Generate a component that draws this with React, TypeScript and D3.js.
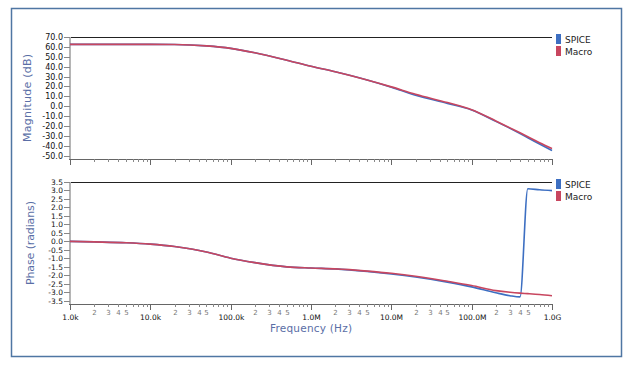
import React, { useEffect, useRef } from "react";
import * as d3 from "d3";

// frequency sample points (Hz)
const freqs = [1e3, 2e3, 5e3, 1e4, 2e4, 5e4, 1e5, 2e5, 5e5, 1e6, 2e6, 5e6, 1e7, 2e7, 5e7, 1e8, 2e8, 3e8, 4e8, 5e8, 7e8, 1e9];

// magnitude (dB)
const magSpice = [62.5, 62.5, 62.5, 62.5, 62.4, 61.0, 58.5, 54.0, 46.5, 40.3, 34.8, 26.5, 19.2, 11.0, 2.8, -3.8, -15.4, -22.5, -27.8, -32.0, -38.3, -45.0];
const magMacro = [62.5, 62.5, 62.5, 62.5, 62.4, 61.0, 58.5, 54.0, 46.5, 40.3, 34.8, 26.5, 19.5, 12.0, 3.6, -3.6, -15.0, -22.0, -27.0, -31.0, -37.0, -43.0];

// phase (radians)
const phaseSpice = [0.0, -0.03, -0.08, -0.16, -0.3, -0.62, -0.99, -1.25, -1.5, -1.57, -1.62, -1.77, -1.92, -2.1, -2.4, -2.68, -3.03, -3.2, -3.27, 3.1, 3.04, 2.99];
const phaseMacro = [0.0, -0.03, -0.08, -0.16, -0.3, -0.62, -0.99, -1.25, -1.5, -1.57, -1.62, -1.75, -1.88, -2.05, -2.35, -2.6, -2.9, -3.0, -3.05, -3.08, -3.13, -3.2];

const decadeLabels = ["1.0k", "10.0k", "100.0k", "1.0M", "10.0M", "100.0M", "1.0G"];
const minorLabels = ["2", "3", "4", "5"];
const magTicks = d3.range(-50, 71, 10);
const phaseTicks = d3.range(-3.5, 3.51, 0.5);

const seriesNames = ["SPICE", "Macro"];
const seriesColors = ["#3d6fc2", "#c8465f"];

const W = 626;
const H = 365;
const FONT = "DejaVu Sans, sans-serif";

export default function App() {
  const ref = useRef<SVGSVGElement>(null);

  useEffect(() => {
    document.body.style.margin = "0";
    const svg = d3.select(ref.current);
    svg.selectAll("*").remove();

    svg.append("rect").attr("width", W).attr("height", H).attr("fill", "#fff");

    // outer frame
    svg
      .append("rect")
      .attr("x", 11.5)
      .attr("y", 8.5)
      .attr("width", 610)
      .attr("height", 348)
      .attr("fill", "none")
      .attr("stroke", "#4f76a3")
      .attr("stroke-width", 1.5);

    const x = d3.scaleLog().domain([1e3, 1e9]).range([70, 552]);

    const panels = [
      {
        top: 37,
        bottom: 159,
        domain: [-53.5, 70],
        ticks: magTicks,
        spice: magSpice,
        macro: magMacro,
        title: "Magnitude (dB)",
        titleX: 31,
        titleLen: 88,
        tickFont: 8,
        legendY: 34,
        showXLabels: false,
      },
      {
        top: 182,
        bottom: 304,
        domain: [-3.69, 3.5],
        ticks: phaseTicks,
        spice: phaseSpice,
        macro: phaseMacro,
        title: "Phase (radians)",
        titleX: 34,
        titleLen: 84,
        tickFont: 7.5,
        legendY: 179,
        showXLabels: true,
      },
    ];

    panels.forEach((p) => {
      const y = d3.scaleLinear().domain(p.domain).range([p.bottom, p.top]);
      const g = svg.append("g");

      // top border
      g.append("line")
        .attr("x1", x.range()[0])
        .attr("x2", x.range()[1])
        .attr("y1", p.top + 0.5)
        .attr("y2", p.top + 0.5)
        .attr("stroke", "#222");

      // y axis
      g.append("line")
        .attr("x1", 70)
        .attr("x2", 70)
        .attr("y1", p.top)
        .attr("y2", p.bottom)
        .attr("stroke", "#b5b5b5")
        .attr("stroke-width", 2);

      p.ticks.forEach((t) => {
        const yy = Math.round(y(t)) + 0.5;
        g.append("line")
          .attr("x1", 64)
          .attr("x2", 70)
          .attr("y1", yy)
          .attr("y2", yy)
          .attr("stroke", "#888");
        g.append("text")
          .attr("x", 63)
          .attr("y", yy)
          .attr("dy", "0.35em")
          .attr("text-anchor", "end")
          .attr("font-family", FONT)
          .attr("font-size", p.tickFont)
          .attr("fill", "#111")
          .text(t.toFixed(1));
      });

      // x axis
      g.append("line")
        .attr("x1", 69)
        .attr("x2", 552)
        .attr("y1", p.bottom + 0.5)
        .attr("y2", p.bottom + 0.5)
        .attr("stroke", "#666");

      for (let d = 0; d < 7; d++) {
        const base = 1e3 * Math.pow(10, d);
        const xx = Math.round(x(base)) + 0.5;
        g.append("line")
          .attr("x1", xx)
          .attr("x2", xx)
          .attr("y1", p.bottom)
          .attr("y2", p.bottom + 6)
          .attr("stroke", "#666");
        if (p.showXLabels) {
          g.append("text")
            .attr("x", xx)
            .attr("y", p.bottom + 16)
            .attr("text-anchor", "middle")
            .attr("font-family", FONT)
            .attr("font-size", 7.5)
            .attr("fill", "#111")
            .text(decadeLabels[d]);
        }
        if (d === 6) break;
        for (let k = 2; k <= 9; k++) {
          const mx = Math.round(x(base * k)) + 0.5;
          g.append("line")
            .attr("x1", mx)
            .attr("x2", mx)
            .attr("y1", p.bottom)
            .attr("y2", p.bottom + 3)
            .attr("stroke", "#888");
          if (p.showXLabels && k <= 5) {
            g.append("text")
              .attr("x", mx)
              .attr("y", p.bottom + 11)
              .attr("text-anchor", "middle")
              .attr("font-family", FONT)
              .attr("font-size", 7)
              .attr("fill", "#777")
              .text(minorLabels[k - 2]);
          }
        }
      }

      // y title
      g.append("text")
        .attr("transform", `translate(${p.titleX},${(p.top + p.bottom) / 2}) rotate(-90)`)
        .attr("text-anchor", "middle")
        .attr("font-family", FONT)
        .attr("font-size", 11)
        .attr("fill", "#5a6ea6")
        .attr("textLength", p.titleLen)
        .attr("lengthAdjust", "spacing")
        .text(p.title);

      // lines
      const line = d3
        .line<number>()
        .x((_, i) => x(freqs[i]))
        .y((v) => y(v))
        .curve(d3.curveMonotoneX);

      [p.spice, p.macro].forEach((vals, si) => {
        g.append("path")
          .datum(vals)
          .attr("fill", "none")
          .attr("stroke", seriesColors[si])
          .attr("stroke-width", 1.6)
          .attr("d", line);
      });

      // legend
      seriesNames.forEach((name, si) => {
        const ly = p.legendY + si * 12;
        g.append("rect")
          .attr("x", 556)
          .attr("y", ly)
          .attr("width", 5)
          .attr("height", 10)
          .attr("fill", seriesColors[si]);
        g.append("text")
          .attr("x", 565)
          .attr("y", ly + 8.5)
          .attr("font-family", FONT)
          .attr("font-size", 9)
          .attr("fill", "#222")
          .text(name);
      });
    });

    // x title
    svg
      .append("text")
      .attr("x", 311)
      .attr("y", 332)
      .attr("text-anchor", "middle")
      .attr("font-family", FONT)
      .attr("font-size", 10.5)
      .attr("fill", "#5a6ea6")
      .attr("textLength", 82)
      .attr("lengthAdjust", "spacing")
      .text("Frequency (Hz)");
  }, []);

  return <svg ref={ref} width={W} height={H} style={{ display: "block" }}></svg>;
}
